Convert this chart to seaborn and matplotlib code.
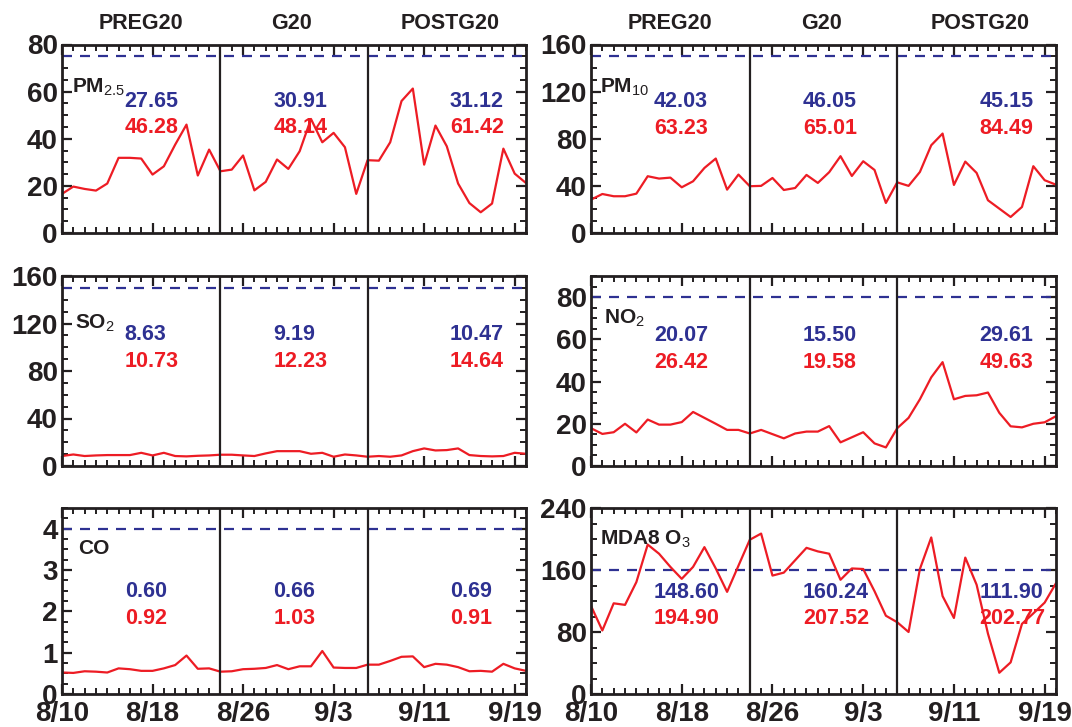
import numpy as np
import pandas as pd
import matplotlib
matplotlib.use("Agg")
import matplotlib.pyplot as plt
import seaborn as sns
from matplotlib.ticker import MultipleLocator, FixedLocator, NullFormatter
from matplotlib.transforms import blended_transform_factory

# ---------------- data ----------------
day_index = np.arange(42)  # 8/10 ... 9/20
tick_days = [0, 8, 16, 24, 32, 40]
tick_labels = ["8/10", "8/18", "8/26", "9/3", "9/11", "9/19"]
period_names = ["PREG20", "G20", "POSTG20"]
period_bounds = [14, 27]
period_centers = [7, 20.3, 34.3]

pm25 = [16.6, 19.7, 18.7, 18.0, 21.0, 31.9, 31.9, 31.6, 24.8, 28.3, 37.5, 46.0, 24.4, 35.4,
        26.2, 26.9, 32.9, 18.1, 21.7, 31.2, 27.2, 34.7, 48.4, 38.5, 42.5, 36.4, 16.6,
        30.9, 30.7, 38.5, 56.0, 61.3, 29.0, 45.6, 36.8, 21.0, 12.7, 8.8, 12.5, 35.8, 25.2, 21.2]
pm10 = [28.3, 33.1, 31.2, 31.2, 33.4, 48.2, 46.2, 47.0, 38.8, 43.9, 55.2, 63.2, 36.8, 49.6,
        39.7, 40.0, 46.7, 36.5, 38.2, 49.3, 42.5, 51.6, 65.2, 48.4, 60.9, 53.5, 25.5,
        43.0, 40.0, 51.8, 74.5, 84.4, 40.8, 60.6, 51.0, 27.8, 20.7, 13.6, 22.1, 56.7, 44.8, 41.0]
so2 = [8.4, 9.7, 8.4, 8.9, 9.2, 9.2, 9.2, 11.1, 8.9, 11.1, 8.4, 8.1, 8.6, 8.9,
       9.5, 9.5, 8.9, 8.4, 10.6, 12.5, 12.5, 12.5, 10.3, 11.1, 7.8, 9.7, 8.9,
       7.8, 8.4, 7.8, 8.9, 12.5, 14.8, 13.1, 13.4, 14.8, 9.2, 8.4, 8.1, 8.4, 11.1, 10.3]
no2 = [17.9, 15.2, 16.0, 20.0, 15.9, 22.0, 19.6, 19.6, 20.8, 25.6, 22.8, 20.0, 17.1, 17.1,
       15.4, 17.1, 15.1, 13.1, 15.4, 16.3, 16.3, 18.9, 11.2, 13.6, 16.0, 10.7, 8.8,
       17.9, 22.8, 31.6, 42.0, 49.2, 31.6, 33.2, 33.5, 34.8, 25.2, 18.8, 18.3, 20.0, 20.7, 23.6]
co = [0.52, 0.51, 0.55, 0.54, 0.52, 0.62, 0.60, 0.56, 0.56, 0.62, 0.70, 0.93, 0.61, 0.62,
      0.54, 0.55, 0.60, 0.61, 0.63, 0.70, 0.60, 0.67, 0.67, 1.04, 0.64, 0.63, 0.63,
      0.71, 0.71, 0.80, 0.90, 0.91, 0.65, 0.73, 0.71, 0.65, 0.55, 0.56, 0.54, 0.73, 0.62, 0.56]
o3 = [113.7, 82.0, 117.0, 115.0, 144.4, 192.8, 181.0, 164.0, 148.6, 164.0, 189.5, 162.0, 131.8, 165.5,
      199.0, 207.0, 152.8, 156.6, 172.6, 188.6, 184.0, 181.0, 147.4, 162.0, 161.3, 132.6, 101.0,
      92.6, 80.0, 161.3, 202.0, 126.3, 98.1, 176.0, 141.0, 77.9, 27.4, 40.8, 90.5, 104.0, 117.9, 143.0]

standards = {"pm25": 75, "pm10": 150, "so2": 150, "no2": 80, "co": 4, "o3": 160}

mean_pm25 = ["27.65", "30.91", "31.12"]; max_pm25 = ["46.28", "48.14", "61.42"]
mean_pm10 = ["42.03", "46.05", "45.15"]; max_pm10 = ["63.23", "65.01", "84.49"]
mean_so2 = ["8.63", "9.19", "10.47"]; max_so2 = ["10.73", "12.23", "14.64"]
mean_no2 = ["20.07", "15.50", "29.61"]; max_no2 = ["26.42", "19.58", "49.63"]
mean_co = ["0.60", "0.66", "0.69"]; max_co = ["0.92", "1.03", "0.91"]
mean_o3 = ["148.60", "160.24", "111.90"]; max_o3 = ["194.90", "207.52", "202.77"]

# ---------------- style ----------------
sns.set_style("ticks")
plt.rcParams["font.family"] = ["Liberation Sans", "DejaVu Sans"]
plt.rcParams["mathtext.fontset"] = "custom"
plt.rcParams["mathtext.rm"] = "Liberation Sans"
plt.rcParams["mathtext.it"] = "Liberation Sans:italic"
plt.rcParams["mathtext.bf"] = "Liberation Sans:bold"

RED = "#ED1C24"
BLUE = "#2E3192"
INK = "#231F20"

fig = plt.figure(figsize=(10.72, 7.27), dpi=100)
W, H = 1072, 727

def axes_at(x0, x1, top, bottom):
    return fig.add_axes([x0 / W, 1 - bottom / H, (x1 - x0) / W, (bottom - top) / H])

cols = [(62, 526), (591, 1056)]
rows = [(44.5, 233), (276, 466), (508, 694)]

panels = [
    dict(key="pm25", y=pm25, label=r"PM$_{2.5}$", ylim=80, major=20, minor=5,
         mean=mean_pm25, mx=max_pm25, ty=(0.699, 0.558), lab=(0.022, 0.78), pos=(0, 0)),
    dict(key="pm10", y=pm10, label=r"PM$_{10}$", ylim=160, major=40, minor=10,
         mean=mean_pm10, mx=max_pm10, ty=(0.699, 0.552), lab=(0.02, 0.78), pos=(0, 1)),
    dict(key="so2", y=so2, label=r"SO$_{2}$", ylim=160, major=40, minor=10,
         mean=mean_so2, mx=max_so2, ty=(0.692, 0.551), lab=(0.029, 0.762), pos=(1, 0)),
    dict(key="no2", y=no2, label=r"NO$_{2}$", ylim=90, major=20, minor=5,
         mean=mean_no2, mx=max_no2, ty=(0.688, 0.545), lab=(0.027, 0.788), pos=(1, 1)),
    dict(key="co", y=co, label="CO", ylim=4.5, major=1, minor=0.25,
         mean=mean_co, mx=max_co, ty=(0.551, 0.405), lab=(0.034, 0.789), pos=(2, 0)),
    dict(key="o3", y=o3, label=r"MDA8 O$_{3}$", ylim=240, major=80, minor=20,
         mean=mean_o3, mx=max_o3, ty=(0.547, 0.404), lab=(0.02, 0.837), pos=(2, 1)),
]

text_x = [0.135, 0.456, 0.836]

for p in panels:
    r, c = p["pos"]
    ax = axes_at(cols[c][0], cols[c][1], rows[r][0], rows[r][1])
    df = pd.DataFrame({"day": day_index, "value": p["y"]})
    sns.lineplot(data=df, x="day", y="value", ax=ax, color=RED, linewidth=1.6)
    ax.axhline(standards[p["key"]], color=BLUE, lw=1.6, ls=(0, (4.5, 3.6)), zorder=1)
    for b in period_bounds:
        ax.axvline(b, color=INK, lw=1.6, zorder=3)
    ax.set_xlim(0, 41)
    ax.set_ylim(0, p["ylim"])
    ax.set_xlabel("")
    ax.set_ylabel("")
    ax.xaxis.set_major_locator(FixedLocator(tick_days))
    ax.xaxis.set_minor_locator(MultipleLocator(1))
    ax.yaxis.set_major_locator(MultipleLocator(p["major"]))
    ax.yaxis.set_minor_locator(MultipleLocator(p["minor"]))
    if r == 2:
        ax.set_xticklabels(tick_labels)
    else:
        ax.xaxis.set_major_formatter(NullFormatter())
    ax.tick_params(which="both", direction="in", top=True, right=True, colors=INK)
    ax.tick_params(which="major", length=7, width=1.6, labelsize=20, pad=3)
    ax.tick_params(which="minor", length=4, width=1.4)
    ax.tick_params(axis="x", which="major", pad=5)
    for lab in ax.get_xticklabels() + ax.get_yticklabels():
        lab.set_fontweight("bold")
    for s in ax.spines.values():
        s.set_linewidth(2.0)
        s.set_color(INK)
        s.set_zorder(4)
    # species label
    ax.text(p["lab"][0], p["lab"][1] - 0.037, p["label"], transform=ax.transAxes,
            ha="left", va="baseline", fontsize=15, fontweight="bold", color=INK)
    # period means / maxima
    for i in range(3):
        ax.text(text_x[i], p["ty"][0], p["mean"][i], transform=ax.transAxes, ha="left",
                va="center", fontsize=15.5, fontweight="bold", color=BLUE)
        ax.text(text_x[i], p["ty"][1], p["mx"][i], transform=ax.transAxes, ha="left",
                va="center", fontsize=15.5, fontweight="bold", color=RED)
    # headers
    if r == 0:
        tr = blended_transform_factory(ax.transData, ax.transAxes)
        for name, cx in zip(period_names, period_centers):
            ax.text(cx, 1.114, name, transform=tr, ha="center", va="center",
                    fontsize=15.5, fontweight="bold", color=INK)

fig.savefig("out.png", dpi=100)
